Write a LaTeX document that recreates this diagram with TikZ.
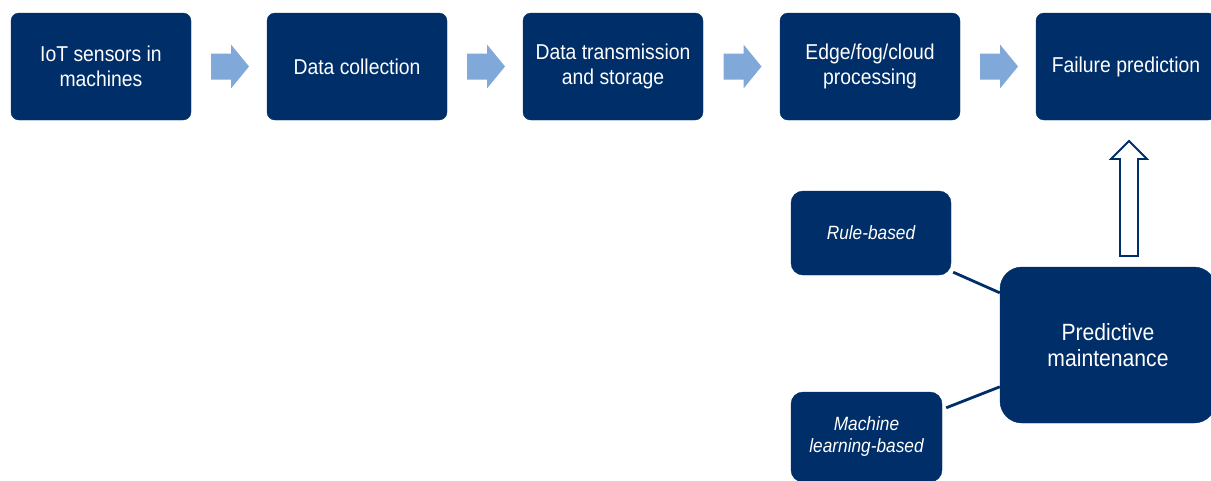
\documentclass[tikz,border=0pt]{standalone}
\usepackage{fontspec}
\setmainfont{Liberation Sans}
\newfontfamily\labelfont[FakeStretch=0.9]{Liberation Sans}
\usetikzlibrary{calc}
\definecolor{navy}{RGB}{0,46,104}
\definecolor{lightblue}{RGB}{128,168,216}
\tikzset{
  stage/.style={fill=navy, draw=navy, rounded corners=8pt, text=white,
    minimum width=180pt, minimum height=107pt, align=center,
    font=\labelfont\fontsize{21.5}{24.5}\selectfont, inner sep=0pt},
  method/.style={fill=navy, draw=navy, rounded corners=12pt, text=white,
    align=center, font=\labelfont\fontsize{19.2}{22}\selectfont\itshape, inner sep=0pt},
  hub/.style={fill=navy, draw=navy, rounded corners=22pt, text=white,
    align=center, font=\labelfont\fontsize{23.5}{26.5}\selectfont, inner sep=0pt},
  link/.style={draw=navy, line width=2.8pt},
  blockarrow/.pic={
    \fill[lightblue] (-18,-13) -- (2,-13) -- (2,-22) -- (20,0) -- (2,22)
      -- (2,13) -- (-18,13) -- cycle;
  },
  hollowarrow/.pic={
    \draw[navy, line width=1.8pt, fill=white] (-9,0) -- (9,0) -- (9,-97)
      -- (18,-97) -- (0,-115) -- (-18,-97) -- (-9,-97) -- cycle;
  }
}
\begin{document}
\begin{tikzpicture}[x=1pt, y=-1pt]
  \useasboundingbox (0,0) rectangle (1211,480);

  % processing chain
  \node[stage] (s1) at (101,66.5) {IoT sensors in\\machines};
  \node[stage] (s2) at (357,66.5) {Data collection};
  \node[stage] (s3) at (613,66.5) {Data transmission\\and storage};
  \node[stage] (s4) at (870,66.5) {Edge/fog/cloud\\processing};
  \node[stage] (s5) at (1126,66.5) {Failure prediction};

  \foreach \a/\b in {s1/s2, s2/s3, s3/s4, s4/s5}
    \pic at ($(\a.east)!0.5!(\b.west)$) {blockarrow};

  % approaches feeding predictive maintenance
  \node[method, minimum width=160pt, minimum height=84pt] (rb) at (871,233) {Rule-based};
  \node[method, minimum width=151pt, minimum height=90pt] (ml) at (866.5,437) {Machine\\learning-based};
  \node[hub, minimum width=216pt, minimum height=156pt] (pm) at (1108,345) {Predictive\\maintenance};

  \draw[link] ($(rb.south east)+(2,-3)$) -- ($(pm.north west)+(0,26)$);
  \draw[link] ($(ml.north east)+(4,16)$) -- ($(pm.north west)+(0,120)$);

  % hollow arrow up to the prediction stage
  \coordinate (up) at (1129,256);
  \pic at (up) {hollowarrow};
\end{tikzpicture}
\end{document}
